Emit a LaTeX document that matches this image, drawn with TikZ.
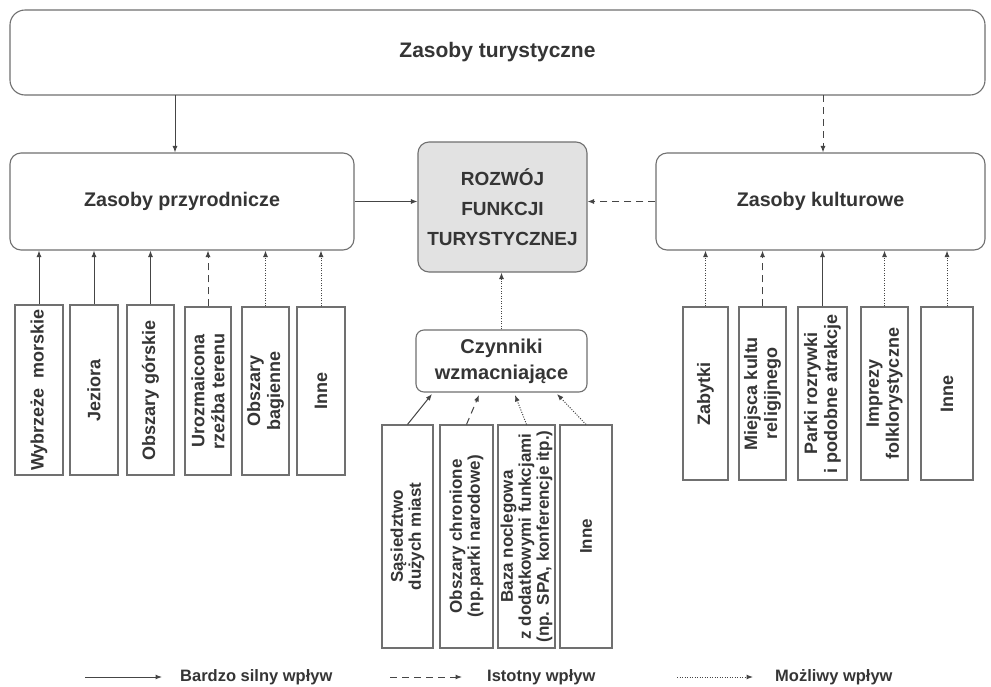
\documentclass[tikz,border=0pt]{standalone}
\usepackage{fontspec}
\setmainfont{Liberation Sans}
\usetikzlibrary{arrows.meta}
\definecolor{txt}{HTML}{353535}
\definecolor{brd}{HTML}{707070}
\definecolor{ln}{HTML}{454545}
\definecolor{fillg}{HTML}{E2E2E2}
\begin{document}
\begin{tikzpicture}[x=1pt,y=-1pt,
  rbox/.style={draw=brd, line width=1.1pt, rounded corners=11pt, inner sep=0pt, text=txt, align=center},
  vbox/.style={draw=brd, line width=1.1pt, inner sep=0pt, text=txt, rotate=90, align=center},
  toptext/.style={font={\fontsize{21}{24}\selectfont\bfseries}},
  midtext/.style={font={\fontsize{19.7}{22}\selectfont\bfseries}},
  roztext/.style={font={\fontsize{19}{30}\selectfont\bfseries}},
  cztext/.style={font={\fontsize{20}{26}\selectfont\bfseries}},
  sidetext/.style={font={\fontsize{18}{20}\selectfont\bfseries}},
  bottext/.style={font={\fontsize{17}{18}\selectfont\bfseries}},
  legtext/.style={text=txt, anchor=west, inner sep=0pt, font={\fontsize{16.5}{18}\selectfont\bfseries}},
  strong/.style={draw=ln, line width=1pt, -{Latex[length=6.5pt,width=5pt]}},
  medium/.style={strong, dash pattern=on 7pt off 5pt},
  weak/.style={strong, dash pattern=on 1pt off 1.5pt},
]
\useasboundingbox[fill=white] (0,0) rectangle (991,686);

% main boxes
\node[rbox, toptext, rounded corners=15pt, minimum width=975, minimum height=85] (top) at (497.5,52.5) {Zasoby turystyczne};
\node[rbox, midtext, minimum width=344, minimum height=97] (prz) at (182,201.5) {Zasoby przyrodnicze};
\node[rbox, roztext, fill=fillg, minimum width=169, minimum height=130] (roz) at (502.5,207) {ROZWÓJ\\FUNKCJI\\TURYSTYCZNEJ};
\node[rbox, midtext, minimum width=329, minimum height=97] (kul) at (820.5,201.5) {Zasoby kulturowe};
\node[rbox, cztext, rounded corners=8pt, minimum width=171, minimum height=62] (cz) at (501.5,361) {Czynniki\\wzmacniające};

% left boxes
\node[vbox, sidetext, minimum width=170, minimum height=48] (l1) at (39,390) {Wybrzeże\ \ morskie};
\node[vbox, sidetext, minimum width=170, minimum height=48] (l2) at (94,390) {Jeziora};
\node[vbox, sidetext, minimum width=170, minimum height=47] (l3) at (150.5,390) {Obszary górskie};
\node[vbox, sidetext, minimum width=168, minimum height=46] (l4) at (208,391) {Urozmaicona\\rzeźba terenu};
\node[vbox, sidetext, minimum width=168, minimum height=47] (l5) at (265.5,391) {Obszary\\bagienne};
\node[vbox, sidetext, minimum width=168, minimum height=48] (l6) at (321,391) {Inne};

% right boxes
\node[vbox, sidetext, minimum width=173, minimum height=45] (r1) at (705.5,393.5) {Zabytki};
\node[vbox, sidetext, minimum width=173, minimum height=47] (r2) at (762.5,393.5) {Miejsca kultu\\religijnego};
\node[vbox, sidetext, minimum width=173, minimum height=49] (r3) at (822.5,393.5) {Parki rozrywki\\i podobne atrakcje};
\node[vbox, sidetext, minimum width=173, minimum height=47] (r4) at (884.5,393.5) {Imprezy\\folklorystyczne};
\node[vbox, sidetext, minimum width=173, minimum height=52] (r5) at (947,393.5) {Inne};

% bottom boxes
\node[vbox, bottext, minimum width=223, minimum height=51] (b1) at (407.5,536.5) {Sąsiedztwo\\dużych miast};
\node[vbox, bottext, minimum width=223, minimum height=53] (b2) at (466.5,536.5) {Obszary chronione\\(np.parki narodowe)};
\node[vbox, bottext, minimum width=223, minimum height=57] (b3) at (526.5,536.5) {Baza noclegowa\\z dodatkowymi funkcjami\\(np. SPA, konferencje itp.)};
\node[vbox, bottext, minimum width=223, minimum height=52] (b4) at (586,536.5) {Inne};

% top connectors
\coordinate (ts1) at (175,95);
\coordinate (ts2) at (823,95);
\draw[strong] (ts1) -- (ts1 |- prz.north);
\draw[medium] (ts2) -- (ts2 |- kul.north);

% horizontal connectors
\draw[strong] (prz.east) -- (roz.west |- prz.east);
\draw[medium] (kul.west) -- (roz.east |- kul.west);
\draw[weak] (cz.north) -- (cz.north |- roz.south);

% left connectors (east anchor = top of rotated box)
\draw[strong] (l1.east) -- (l1.east |- prz.south);
\draw[strong] (l2.east) -- (l2.east |- prz.south);
\draw[strong] (l3.east) -- (l3.east |- prz.south);
\draw[medium] (l4.east) -- (l4.east |- prz.south);
\draw[weak] (l5.east) -- (l5.east |- prz.south);
\draw[weak] (l6.east) -- (l6.east |- prz.south);

% right connectors
\draw[weak] (r1.east) -- (r1.east |- kul.south);
\draw[medium] (r2.east) -- (r2.east |- kul.south);
\draw[strong] (r3.east) -- (r3.east |- kul.south);
\draw[weak] (r4.east) -- (r4.east |- kul.south);
\draw[weak] (r5.east) -- (r5.east |- kul.south);

% bottom connectors
\coordinate (t1) at (432,394);
\coordinate (t2) at (479,395);
\coordinate (t3) at (515,395);
\coordinate (t4) at (557,394);
\draw[strong] (b1.east) -- (t1);
\draw[medium] (b2.east) -- (t2);
\draw[weak] (b3.east) -- (t3);
\draw[weak] (b4.east) -- (t4);

% legend
\coordinate (la1) at (85,677);  \coordinate (la2) at (162,677);
\coordinate (lb1) at (390,677); \coordinate (lb2) at (462,677);
\coordinate (lc1) at (677,677); \coordinate (lc2) at (753,677);
\draw[strong] (la1) -- (la2);
\draw[medium] (lb1) -- (lb2);
\draw[weak] (lc1) -- (lc2);
\node[legtext] (lt1) at (180,677) {Bardzo silny wpływ};
\node[legtext] (lt2) at (487,677) {Istotny wpływ};
\node[legtext] (lt3) at (775,677) {Możliwy wpływ};
\end{tikzpicture}
\end{document}
